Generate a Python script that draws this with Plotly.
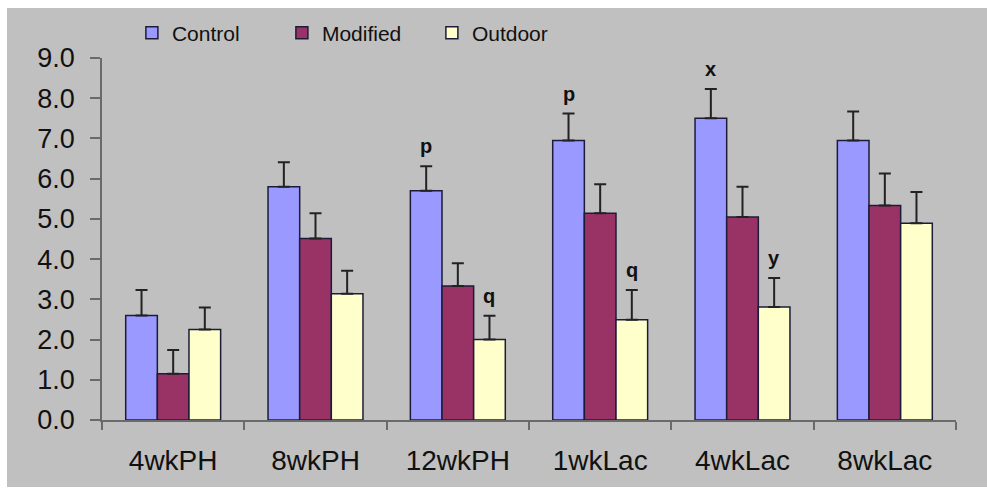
import plotly.graph_objects as go

categories = ["4wkPH", "8wkPH", "12wkPH", "1wkLac", "4wkLac", "8wkLac"]
series_names = ["Control", "Modified", "Outdoor"]
control = [2.60, 5.80, 5.70, 6.95, 7.50, 6.95]
control_err = [0.63, 0.61, 0.61, 0.67, 0.73, 0.72]
modified = [1.15, 4.51, 3.33, 5.14, 5.05, 5.33]
modified_err = [0.59, 0.63, 0.57, 0.72, 0.75, 0.80]
outdoor = [2.25, 3.14, 2.00, 2.49, 2.81, 4.89]
outdoor_err = [0.55, 0.57, 0.59, 0.74, 0.72, 0.78]
y_ticks = [0, 1, 2, 3, 4, 5, 6, 7, 8, 9]
letters = [("12wkPH", "Control", "p"), ("12wkPH", "Outdoor", "q"),
           ("1wkLac", "Control", "p"), ("1wkLac", "Outdoor", "q"),
           ("4wkLac", "Control", "x"), ("4wkLac", "Outdoor", "y")]

colors = ["#9999FF", "#993366", "#FFFFCC"]
values = [control, modified, outdoor]
errors = [control_err, modified_err, outdoor_err]
bargap = 0.333
FONT = "Liberation Sans, Arial, sans-serif"

fig = go.Figure()
for name, vals, errs, col in zip(series_names, values, errors, colors):
    fig.add_trace(go.Bar(
        x=categories, y=vals, name=name,
        marker=dict(color=col, line=dict(color="#1c1c3a", width=1.5)),
        error_y=dict(type="data", array=errs, arrayminus=[0] * len(errs),
                     symmetric=False, color="#222222", thickness=2, width=6),
    ))

bw = (1 - bargap) / len(series_names)
for cat, ser, letter in letters:
    ci = categories.index(cat)
    si = series_names.index(ser)
    top = values[si][ci] + errors[si][ci]
    fig.add_annotation(x=ci + (si - 1) * bw, y=top, text=letter, showarrow=False,
                       xref="x", yref="y", yanchor="middle", yshift=20,
                       font=dict(family=FONT, size=20, color="#111111", weight="bold"))

# grey chart-area background
fig.add_shape(type="rect", xref="paper", yref="paper",
              x0=(7 - 102) / 854, x1=(990 - 102) / 854,
              y0=(420 - 487) / 362, y1=(420 - 8) / 362,
              fillcolor="#C0C0C0", line=dict(width=0), layer="below")

fig.update_layout(
    width=987, height=492,
    margin=dict(l=102, r=31, t=58, b=72),
    paper_bgcolor="white", plot_bgcolor="rgba(0,0,0,0)",
    barmode="group", bargap=bargap, bargroupgap=0,
    font=dict(family=FONT, color="#111111"),
    showlegend=True,
    legend=dict(orientation="h", x=0.035, y=1.069, xanchor="left", yanchor="middle",
                font=dict(family=FONT, size=21, color="#111111"),
                bgcolor="rgba(0,0,0,0)", itemwidth=30, traceorder="normal",
                entrywidth=105, entrywidthmode="pixels"),
    xaxis=dict(type="category", showgrid=False, showline=True, linecolor="#6a6a6a",
               linewidth=1.5, ticks="outside", tickson="boundaries", ticklen=8,
               tickcolor="#6a6a6a", tickwidth=1.5, ticklabelstandoff=15,
               tickfont=dict(family=FONT, size=28, color="#111111")),
    yaxis=dict(range=[0, 9], tickvals=y_ticks, ticktext=[f"{v:.1f}" for v in y_ticks],
               showgrid=False, showline=True, linecolor="#6a6a6a", linewidth=1.5,
               ticks="outside", ticklen=10, tickcolor="#6a6a6a", tickwidth=1.5,
               ticklabelstandoff=10, zeroline=False,
               tickfont=dict(family=FONT, size=27, color="#111111")),
)

fig.write_html("out.html")
